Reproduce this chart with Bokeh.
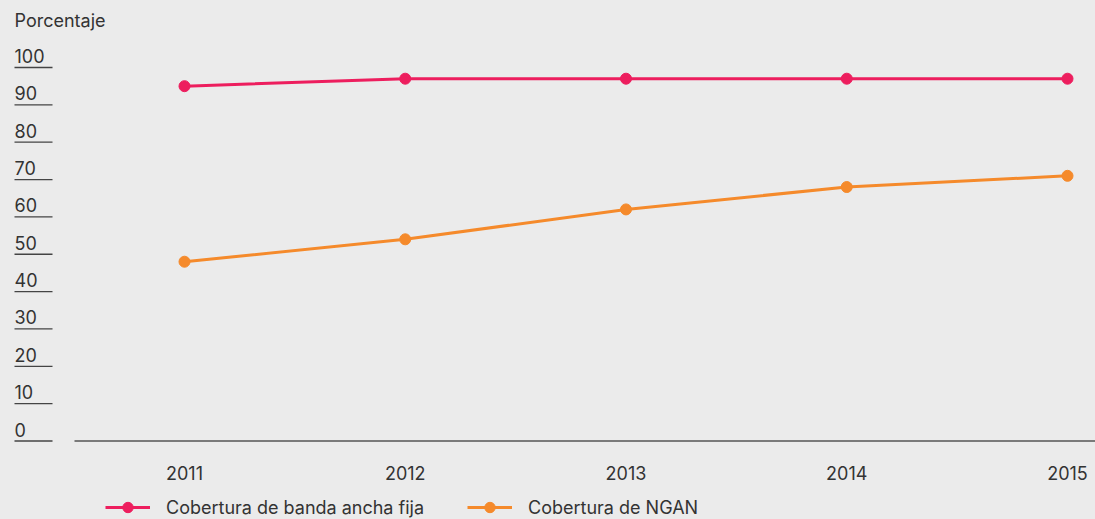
from bokeh.plotting import figure
from bokeh.models import Range1d, Legend, LegendItem, ColumnDataSource
from bokeh.core.properties import value
from bokeh.embed import file_html
from bokeh.resources import INLINE

# ---------------- data ----------------
years = [2011, 2012, 2013, 2014, 2015]
year_labels = ["2011", "2012", "2013", "2014", "2015"]
banda_ancha_fija = [95, 97, 97, 97, 97]
ngan = [48, 54, 62, 68, 71]
y_ticks = [0, 10, 20, 30, 40, 50, 60, 70, 80, 90, 100]
y_tick_labels = ["0", "10", "20", "30", "40", "50", "60", "70", "80", "90", "100"]
series_names = ["Cobertura de banda ancha fija", "Cobertura de NGAN"]
y_title = "Porcentaje"

# ---------------- style / layout ----------------
W, H = 1095, 519
FONT = "Inter"
FS = "18px"
TXT = "#333333"
BG = "#ebebeb"
PINK = "#ed1e5e"
ORANGE = "#f58a2b"

x_first_px, x_step_px = 184.0, 220.75      # pixel of first year, pixels per year
y0_px, y100_px = 440.5, 67.0               # pixel (from top) of 0 and 100
ppu = (y0_px - y100_px) / 100.0
x_start = years[0] - x_first_px / x_step_px
x_end = x_start + W / x_step_px
y_start = -(H - y0_px) / ppu
y_end = y_start + H / ppu

p = figure(width=W, height=H,
           x_range=Range1d(x_start, x_end), y_range=Range1d(y_start, y_end),
           output_backend="svg", toolbar_location=None, min_border=0,
           x_axis_location=None, y_axis_location=None)
p.extra_x_ranges = {"px": Range1d(0, W)}
p.extra_y_ranges = {"py": Range1d(H, 0)}
p.outline_line_color = None
p.background_fill_color = BG
p.border_fill_color = BG
p.grid.visible = False

# y tick underlines and labels
tick_src = ColumnDataSource(dict(
    x0=[14] * len(y_ticks), x1=[52] * len(y_ticks), y=y_ticks,
    ylab=[t + 11.5 / ppu for t in y_ticks], lab=y_tick_labels))
p.segment(x0="x0", x1="x1", y0="y", y1="y", source=tick_src, x_range_name="px",
          line_color="#444444", line_width=1.3)
p.text(x="x0", y="ylab", text="lab", source=tick_src, x_range_name="px",
       text_font=value(FONT), text_font_size=FS, text_color=TXT,
       text_align="left", text_baseline="middle")

# axis title
p.text(x=[14], y=[20], text=[y_title], x_range_name="px", y_range_name="py",
       text_font=value(FONT), text_font_size=FS, text_color=TXT,
       text_align="left", text_baseline="middle")

# x axis line
p.segment(x0=[74], x1=[W], y0=[y_ticks[0]], y1=[y_ticks[0]], x_range_name="px",
          line_color="#555555", line_width=1.6)

# x labels
p.text(x=years, y=[-(472 - y0_px) / ppu] * len(years), text=year_labels,
       text_font=value(FONT), text_font_size=FS, text_color=TXT,
       text_align="center", text_baseline="middle")

# series
items = []
for vals, col, name in [(banda_ancha_fija, PINK, series_names[0]),
                        (ngan, ORANGE, series_names[1])]:
    src = ColumnDataSource(dict(x=years, y=vals))
    lr = p.line("x", "y", source=src, line_color=col, line_width=3)
    sr = p.scatter("x", "y", source=src, size=11, fill_color=col, line_color=col)
    items.append(LegendItem(label=name, renderers=[lr, sr]))

legend = Legend(items=items, orientation="horizontal", location=(105, -1),
                glyph_width=45, glyph_height=26, label_height=26,
                label_standoff=16, spacing=43, padding=0, margin=0,
                background_fill_alpha=0, border_line_color=None,
                label_text_font=FONT, label_text_font_size=FS,
                label_text_color=TXT)
p.add_layout(legend, "center")

html = file_html(p, INLINE)
html = html.replace("</head>", "<style>body{background:#ebebeb;}</style></head>", 1)
open("out.html", "w").write(html)
